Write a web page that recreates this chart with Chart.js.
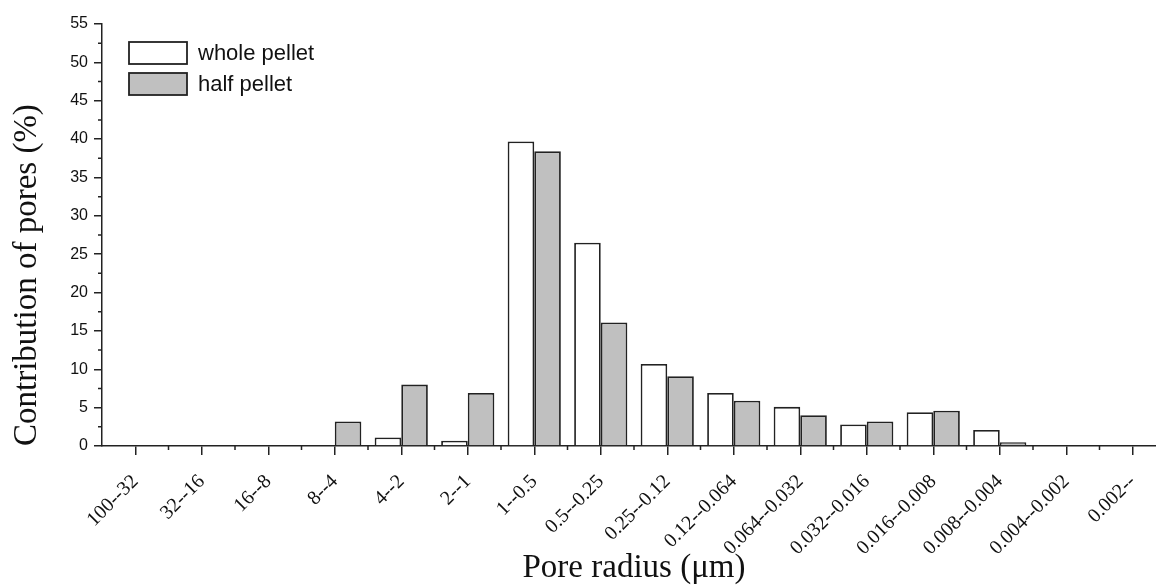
<!DOCTYPE html>
<html>
<head>
<meta charset="utf-8">
<script src="https://cdn.jsdelivr.net/npm/chart.js@4.4.0/dist/chart.umd.min.js"></script>
<style>
    body { margin: 0; background: #fff; overflow: hidden; }
    #wrap { width: 1180px; height: 585px; }
</style>
</head>
<body>
<div id="wrap"><canvas id="poreChart"></canvas></div>
<script>
// ============================== DATA ==============================
const poreRanges = ['100--32', '32--16', '16--8', '8--4', '4--2', '2--1', '1--0.5', '0.5--0.25',
    '0.25--0.12', '0.12--0.064', '0.064--0.032', '0.032--0.016', '0.016--0.008', '0.008--0.004',
    '0.004--0.002', '0.002--'];
const wholePellet = [0, 0, 0, 0, 1.1, 0.7, 39.7, 26.5, 10.7, 6.9, 5.1, 2.8, 4.4, 2.1, 0, 0];
const halfPellet  = [0, 0, 0, 3.2, 8.0, 6.9, 38.4, 16.1, 9.1, 5.9, 4.0, 3.2, 4.6, 0.5, 0, 0];
const seriesNames = ['whole pellet', 'half pellet'];
const yMin = 0, yMax = 55, yStep = 5;

const SERIF = '"Liberation Serif", "Times New Roman", serif';
const SANS = '"Liberation Sans", Arial, sans-serif';
const INK = '#222';

// ============================== PLUGINS ==============================
// legend boxes sitting inside the plot, top left
const insideLegend = {
    id: 'insideLegend',
    afterDraw(chart) {
        const ctx = chart.ctx;
        const area = chart.chartArea;
        chart.data.datasets.forEach((ds, i) => {
            const x = area.left + 27;
            const y = area.top + 18 + i * 31;
            ctx.save();
            ctx.fillStyle = ds.backgroundColor;
            ctx.fillRect(x, y, 58, 22);
            ctx.strokeStyle = INK;
            ctx.lineWidth = 1.8;
            ctx.strokeRect(x, y, 58, 22);
            ctx.fillStyle = '#111';
            ctx.font = '22px ' + SANS;
            ctx.textBaseline = 'middle';
            ctx.fillText(ds.label, x + 69, y + 12);
            ctx.restore();
        });
    }
};

// short minor ticks between the major ones
const minorTicks = {
    id: 'minorTicks',
    afterDraw(chart) {
        const { ctx, scales: { x, y } } = chart;
        ctx.save();
        ctx.strokeStyle = INK;
        ctx.lineWidth = 1.5;
        ctx.beginPath();
        for (let v = yMin + yStep / 2; v < yMax; v += yStep) {
            const py = y.getPixelForValue(v);
            ctx.moveTo(y.right - 4, py);
            ctx.lineTo(y.right, py);
        }
        const half = (x.getPixelForValue(1) - x.getPixelForValue(0)) / 2;
        for (let i = 1; i < poreRanges.length; i++) {
            const px = x.getPixelForValue(i) - half;
            ctx.moveTo(px, x.top);
            ctx.lineTo(px, x.top + 4);
        }
        ctx.stroke();
        ctx.restore();
    }
};

// ============================== CHART ==============================
const ctx = document.getElementById('poreChart').getContext('2d');
new Chart(ctx, {
    type: 'bar',
    data: {
        labels: poreRanges,
        datasets: [
            { label: seriesNames[0], data: wholePellet, backgroundColor: '#ffffff', borderColor: INK, borderWidth: 1.8 },
            { label: seriesNames[1], data: halfPellet, backgroundColor: '#c0c0c0', borderColor: INK, borderWidth: 1.8 }
        ]
    },
    options: {
        responsive: true,
        maintainAspectRatio: false,
        devicePixelRatio: 1,
        animation: false,
        layout: { padding: { top: 24, right: 14, bottom: 0, left: 0 } },
        datasets: { bar: { categoryPercentage: 0.8, barPercentage: 1.0 } },
        plugins: { legend: { display: false }, tooltip: { enabled: false } },
        scales: {
            x: {
                grid: { offset: false, drawOnChartArea: false, tickLength: 9, color: INK, lineWidth: 1.5 },
                border: { color: INK, width: 1.5 },
                ticks: { autoSkip: false, minRotation: 45, maxRotation: 45, color: '#111', padding: 15,
                         font: { family: SERIF, size: 20 } },
                title: { display: true, text: 'Pore radius (μm)', color: '#111',
                         font: { family: SERIF, size: 33 }, padding: { top: 0, bottom: -3 } },
                afterFit(scale) { scale.height = 139; }
            },
            y: {
                min: yMin,
                max: yMax,
                grid: { drawOnChartArea: false, tickLength: 8, color: INK, lineWidth: 1.5 },
                border: { color: INK, width: 1.5 },
                ticks: { stepSize: yStep, color: '#111', padding: 6, font: { family: SANS, size: 16 } },
                title: { display: true, align: 'start', text: 'Contribution of pores (%)', color: '#111',
                         font: { family: SERIF, size: 33 }, padding: { top: 8, bottom: 0 } },
                afterFit(scale) { scale.width = 102; }
            }
        }
    },
    plugins: [insideLegend, minorTicks]
});
</script>
</body>
</html>
